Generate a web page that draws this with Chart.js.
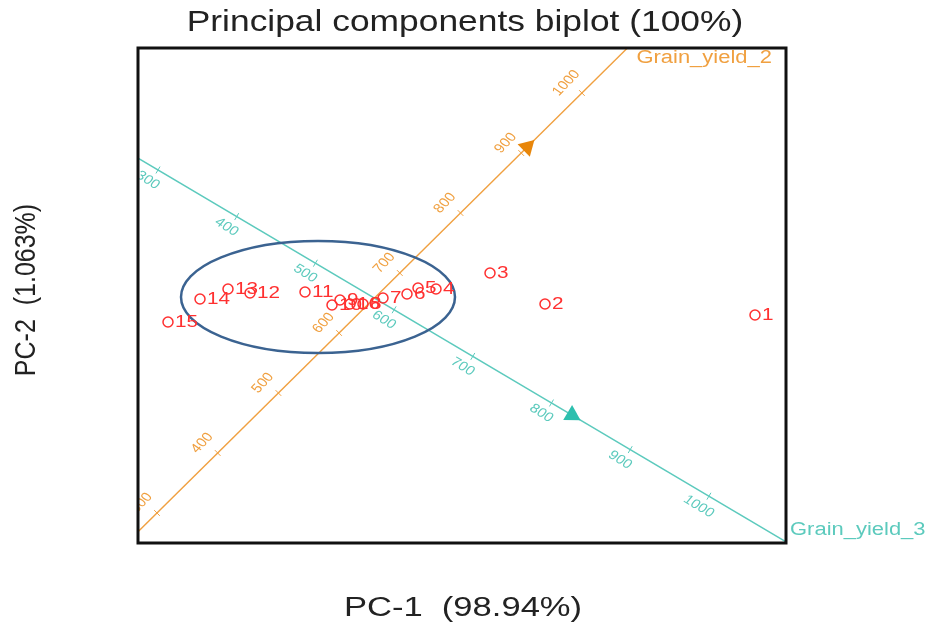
<!DOCTYPE html>
<html>
<head>
<meta charset="utf-8">
<script src="https://cdn.jsdelivr.net/npm/chart.js@4.4.0/dist/chart.umd.min.js"></script>
<style>
  html, body { margin: 0; padding: 0; background: #fff; }
</style>
</head>
<body>
<canvas id="biplot" width="930" height="629"></canvas>
<script>
// genotype scores on PC1 / PC2
const genotypes = ["1", "2", "3", "4", "5", "6", "7", "8", "9", "10", "11", "12", "13", "14", "15", "16"];
const pc1 = [3.55, 1.45, 0.90, 0.36, 0.18, 0.07, -0.17, -0.37, -0.60, -0.68, -0.95, -1.50, -1.72, -2.00, -2.32, -0.50];
const pc2 = [-0.15, -0.04, 0.27, 0.11, 0.12, 0.06, 0.02, -0.04, 0.00, -0.05, 0.08, 0.07, 0.11, 0.01, -0.22, -0.04];

// environment axes (value 300 position + shift for each 100 units)
const envNames = ["Grain_yield_2", "Grain_yield_3"];
const envTicks = [300, 400, 500, 600, 700, 800, 900, 1000];
const envStart = [[-2.43, -2.13], [-2.42, 1.30]];
const envStep = [[0.607, 0.600], [0.787, -0.466]];
const envEnds = [[250, 1075], [250, 1098]];
const envArrow = [910, 826];

// highlighted group
const ellipseCenter = [-0.82, 0.03];
const ellipseRadii = [1.37, 0.56];

const RED = "#ff3030";
const envColors = ["#f0a040", "#5ccabd"];
const arrowColors = ["#e8860a", "#2dbfae"];
const STRETCH = 1.22;

function axisPoint(i, v) {
    const k = (v - 300) / 100;
    return { x: envStart[i][0] + k * envStep[i][0], y: envStart[i][1] + k * envStep[i][1] };
}

function drawText(ctx, txt, x, y, o) {
    ctx.save();
    ctx.translate(x, y);
    ctx.scale(o.sx || STRETCH, 1);
    if (o.angle) ctx.rotate(o.angle);
    ctx.font = o.font;
    ctx.fillStyle = o.color;
    ctx.textAlign = o.align || "center";
    ctx.textBaseline = o.baseline || "middle";
    ctx.fillText(txt, 0, 0);
    ctx.restore();
}

const biplotDecor = {
    id: "biplotDecor",
    afterDatasetsDraw(chart) {
        const ctx = chart.ctx;
        const xs = chart.scales.x, ys = chart.scales.y;
        const area = chart.chartArea;

        // axis ticks + tick labels + arrows
        envNames.forEach((name, i) => {
            const p0 = axisPoint(i, 300), p1 = axisPoint(i, 400);
            let dx = xs.getPixelForValue(p1.x) - xs.getPixelForValue(p0.x);
            let dy = ys.getPixelForValue(p1.y) - ys.getPixelForValue(p0.y);
            const len = Math.hypot(dx, dy);
            const ux = dx / len, uy = dy / len;
            // label side: orange above-left, teal below-left
            const px = i === 0 ? uy : -uy;
            const py = i === 0 ? -ux : ux;
            const off = i === 0 ? 18 : 14;
            const back = i === 0 ? 4 : 3.5;
            const ang = Math.atan2(uy, ux / STRETCH);

            ctx.save();
            ctx.beginPath();
            ctx.rect(area.left, area.top, area.right - area.left, area.bottom - area.top);
            ctx.clip();
            envTicks.forEach(v => {
                const p = axisPoint(i, v);
                const tx = xs.getPixelForValue(p.x), ty = ys.getPixelForValue(p.y);
                ctx.strokeStyle = envColors[i];
                ctx.lineWidth = 1;
                ctx.beginPath();
                ctx.moveTo(tx - uy * 4, ty + ux * 4);
                ctx.lineTo(tx + uy * 4, ty - ux * 4);
                ctx.stroke();
                drawText(ctx, String(v), tx + px * off - ux * back, ty + py * off - uy * back,
                    { font: "13px 'Liberation Sans', Arial, sans-serif", color: envColors[i], angle: ang, sx: 1.18 });
            });

            // arrow head
            const ap = axisPoint(i, envArrow[i]);
            const ax = xs.getPixelForValue(ap.x), ay = ys.getPixelForValue(ap.y);
            const r = 10;
            ctx.fillStyle = arrowColors[i];
            ctx.beginPath();
            ctx.moveTo(ax + ux * r, ay + uy * r);
            ctx.lineTo(ax - ux * r * 0.5 - uy * r * 0.87, ay - uy * r * 0.5 + ux * r * 0.87);
            ctx.lineTo(ax - ux * r * 0.5 + uy * r * 0.87, ay - uy * r * 0.5 - ux * r * 0.87);
            ctx.closePath();
            ctx.fill();
            ctx.restore();

            const e = axisPoint(i, envEnds[i][1]);
            const ex = xs.getPixelForValue(e.x), ey = ys.getPixelForValue(e.y);
            drawText(ctx, name, i === 0 ? ex + 9 : ex + 4, i === 0 ? ey + 10 : ey - 12,
                { font: "18px 'Liberation Sans', Arial, sans-serif", color: envColors[i], align: "left" });
        });

        // ellipse
        const cx = xs.getPixelForValue(ellipseCenter[0]);
        const cy = ys.getPixelForValue(ellipseCenter[1]);
        const rx = Math.abs(xs.getPixelForValue(ellipseCenter[0] + ellipseRadii[0]) - cx);
        const ry = Math.abs(ys.getPixelForValue(ellipseCenter[1] + ellipseRadii[1]) - cy);
        ctx.save();
        ctx.strokeStyle = "#3b6391";
        ctx.lineWidth = 2.5;
        ctx.beginPath();
        ctx.ellipse(cx, cy, rx, ry, 0, 0, Math.PI * 2);
        ctx.stroke();
        ctx.restore();

        // genotype labels
        genotypes.forEach((g, i) => {
            const x = xs.getPixelForValue(pc1[i]), y = ys.getPixelForValue(pc2[i]);
            drawText(ctx, g, x + 7, y, { font: "17px 'Liberation Sans', Arial, sans-serif", color: RED, align: "left" });
        });
    },
    afterDraw(chart) {
        const ctx = chart.ctx;
        const a = chart.chartArea;
        ctx.save();
        ctx.strokeStyle = "#111";
        ctx.lineWidth = 3;
        ctx.strokeRect(a.left, a.top, a.right - a.left, a.bottom - a.top);
        ctx.restore();

        const mid = (a.left + a.right) / 2;
        drawText(ctx, "Principal components biplot (100%)", mid + 3, 23,
            { font: "29px 'Liberation Sans', Arial, sans-serif", color: "#222" });
        drawText(ctx, "PC-1  (98.94%)", mid + 1, 609,
            { font: "27px 'Liberation Sans', Arial, sans-serif", color: "#222", sx: 1.28 });
        drawText(ctx, "PC-2  (1.063%)", 27, 290,
            { font: "25px 'Liberation Sans', Arial, sans-serif", color: "#222", angle: -Math.PI / 2, sx: 1.2 });
    }
};

const datasets = [{
    label: "genotypes",
    data: genotypes.map((g, i) => ({ x: pc1[i], y: pc2[i] })),
    pointRadius: 5,
    pointHoverRadius: 5,
    pointBorderWidth: 1.5,
    borderColor: RED,
    backgroundColor: "rgba(0,0,0,0)"
}];

envNames.forEach((name, i) => {
    datasets.push({
        label: name,
        data: envEnds[i].map(v => axisPoint(i, v)),
        showLine: true,
        pointRadius: 0,
        borderColor: envColors[i],
        borderWidth: 1.4
    });
});

new Chart(document.getElementById("biplot").getContext("2d"), {
    type: "scatter",
    data: { datasets },
    options: {
        responsive: false,
        animation: false,
        devicePixelRatio: 1,
        layout: { padding: { left: 138, top: 48, right: 144, bottom: 86 } },
        plugins: { legend: { display: false }, tooltip: { enabled: false } },
        scales: {
            x: { type: "linear", min: -2.62, max: 3.86, display: false },
            y: { type: "linear", min: -2.43, max: 2.52, display: false }
        }
    },
    plugins: [biplotDecor]
});
</script>
</body>
</html>
